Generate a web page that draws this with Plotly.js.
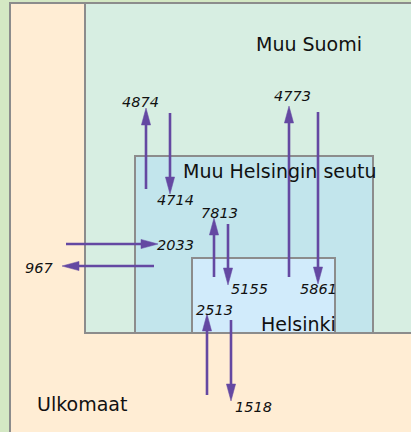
<!DOCTYPE html>
<html>
<head>
<meta charset="utf-8">
<script src="https://cdn.plot.ly/plotly-3.0.1.min.js"></script>
<style>html,body{margin:0;padding:0;background:#d4e8c4;}#chart{width:411px;height:432px;}</style>
</head>
<body>
<div id="chart"></div>
<script>
// Regions (nested areas)
const regionNames = ['Ulkomaat', 'Muu Suomi', 'Muu Helsingin seutu', 'Helsinki'];
// Migration flows
const flowValues = [4874, 4714, 4773, 5861, 7813, 5155, 2033, 967, 2513, 1518];
const flowFrom = ['Muu Helsingin seutu', 'Muu Suomi', 'Helsinki', 'Muu Suomi', 'Helsinki', 'Muu Helsingin seutu', 'Ulkomaat', 'Muu Helsingin seutu', 'Ulkomaat', 'Helsinki'];
const flowTo = ['Muu Suomi', 'Muu Helsingin seutu', 'Muu Suomi', 'Helsinki', 'Muu Helsingin seutu', 'Helsinki', 'Muu Helsingin seutu', 'Ulkomaat', 'Helsinki', 'Ulkomaat'];

// ---- layout geometry (diagram coordinates, pixels) ----
const regionBoxes = [[10, 3, 430, 450], [85, 3, 430, 333], [135, 156, 373, 333], [192, 258, 335, 333]];
const regionFills = ['#ffedd4', '#d7eee2', '#c2e5ec', '#d1ebfb'];
const regionLabelPos = [[82, 404], [309, 44], [280, 171], [298, 324]];
const arrowTail = [[146, 189], [170, 113], [289, 277], [318, 112], [214, 277], [228, 224], [66, 244], [154, 266], [207, 395], [231, 320]];
const arrowTip = [[146, 108], [170, 194], [289, 106], [318, 284], [214, 218], [228, 285], [158, 244], [62, 266], [207, 314], [231, 401]];
const flowLabelPos = [[140, 102], [175, 200], [292, 96], [318, 289], [219, 213], [249, 289], [175, 245], [39, 268], [214, 310], [253, 407]];

const arrowColor = '#6448a2';
const borderColor = '#8c8c8c';
const font = 'DejaVu Sans, Verdana, sans-serif';

const shapes = [];
regionBoxes.forEach((b, i) => {
  shapes.push({type: 'rect', xref: 'x', yref: 'y', x0: b[0], y0: b[1], x1: b[2], y1: b[3],
    fillcolor: regionFills[i], line: {color: borderColor, width: 2}, layer: 'below'});
});
const headLen = 17, headHalf = 4.6;
arrowTail.forEach((t, i) => {
  const p = arrowTip[i];
  const dx = p[0] - t[0], dy = p[1] - t[1];
  const L = Math.hypot(dx, dy), ux = dx / L, uy = dy / L;
  const bx = p[0] - ux * headLen, by = p[1] - uy * headLen;
  shapes.push({type: 'line', xref: 'x', yref: 'y', x0: t[0], y0: t[1], x1: bx, y1: by,
    line: {color: arrowColor, width: 2.6}});
  const px = -uy, py = ux;
  shapes.push({type: 'path', xref: 'x', yref: 'y',
    path: `M${p[0]},${p[1]} L${bx + px * headHalf},${by + py * headHalf} L${bx - px * headHalf},${by - py * headHalf} Z`,
    fillcolor: arrowColor, line: {color: arrowColor, width: 0.5}});
});

const annotations = [];
regionNames.forEach((n, i) => {
  annotations.push({x: regionLabelPos[i][0], y: regionLabelPos[i][1], xref: 'x', yref: 'y', text: n,
    showarrow: false, xanchor: 'center', yanchor: 'middle', font: {family: font, size: 19, color: '#111'}});
});
flowValues.forEach((v, i) => {
  annotations.push({x: flowLabelPos[i][0], y: flowLabelPos[i][1], xref: 'x', yref: 'y', text: '<i>' + v + '</i>',
    showarrow: false, xanchor: 'center', yanchor: 'middle', font: {family: font, size: 14.5, color: '#111'}});
});

const layout = {
  width: 411, height: 432,
  margin: {l: 0, r: 0, t: 0, b: 0, pad: 0},
  paper_bgcolor: '#d4e8c4', plot_bgcolor: '#d4e8c4',
  xaxis: {range: [0, 411], visible: false, fixedrange: true},
  yaxis: {range: [432, 0], visible: false, fixedrange: true},
  showlegend: false,
  shapes: shapes,
  annotations: annotations
};
Plotly.newPlot('chart', [{x: [], y: [], type: 'scatter', hoverinfo: 'skip'}], layout, {displayModeBar: false, staticPlot: true});
</script>
</body>
</html>
